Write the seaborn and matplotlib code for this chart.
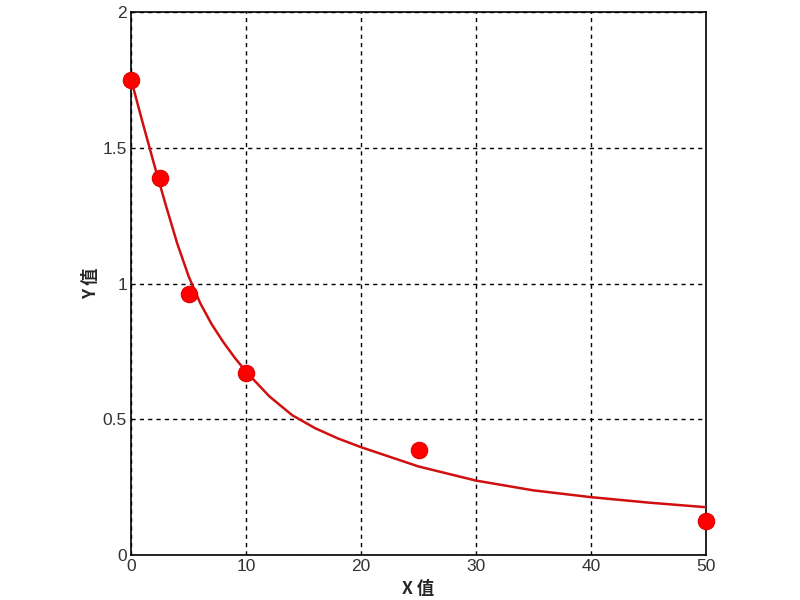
import numpy as np
import pandas as pd
import seaborn as sns
import matplotlib.pyplot as plt

# measured standard points
conc = [0, 2.5, 5, 10, 25, 50]
signal = [1.75, 1.39, 0.96, 0.67, 0.385, 0.125]

# fitted curve
curve_x = [0, 1, 2, 3, 4, 5, 6, 7, 8, 9, 10, 12, 14, 16, 18, 20,
           25, 30, 35, 40, 45, 50]
curve_y = [1.75, 1.592, 1.438, 1.29, 1.148, 1.026, 0.928, 0.850, 0.785,
           0.727, 0.675, 0.585, 0.515, 0.467, 0.429, 0.397,
           0.326, 0.274, 0.238, 0.213, 0.193, 0.176]

x_ticks = [0, 10, 20, 30, 40, 50]
y_ticks = [0, 0.5, 1, 1.5, 2]
y_tick_labels = ['0', '0.5', '1', '1.5', '2']

sns.set_style('white')
plt.rcParams['font.family'] = ['Liberation Sans', 'Noto Sans CJK SC', 'DejaVu Sans']

fig = plt.figure(figsize=(8, 6), dpi=100)
ax = fig.add_axes([0.164, 0.075, 0.7185, 0.905])

pts = pd.DataFrame({'x': conc, 'y': signal})
fit = pd.DataFrame({'x': curve_x, 'y': curve_y})

sns.lineplot(data=fit, x='x', y='y', ax=ax, color='#d01010', lw=1.8, zorder=3)
sns.scatterplot(data=pts, x='x', y='y', ax=ax, color='#ff0000', s=140,
                edgecolor='#e00000', linewidth=0.8, zorder=4, clip_on=False)

ax.set_xlim(0, 50)
ax.set_ylim(0, 2)
ax.set_xticks(x_ticks)
ax.set_yticks(y_ticks)
ax.set_yticklabels(y_tick_labels)
ax.grid(True, color='black', linestyle=(0, (3, 3)), linewidth=1)
ax.set_axisbelow(True)
for s in ax.spines.values():
    s.set_color('black')
    s.set_linewidth(1.2)
ax.tick_params(direction='in', length=4, width=1, labelsize=12.5, pad=3,
               colors='black', labelcolor='#333333')

ax.set_xlabel('X 值', fontsize=12.5, fontweight='bold',
              family=['Noto Sans CJK SC', 'DejaVu Sans'], labelpad=4)
ax.set_ylabel('Y 值', fontsize=12.5, fontweight='bold',
              family=['Noto Sans CJK SC', 'DejaVu Sans'], labelpad=2)

fig.savefig('out.png', dpi=100, facecolor='white')
